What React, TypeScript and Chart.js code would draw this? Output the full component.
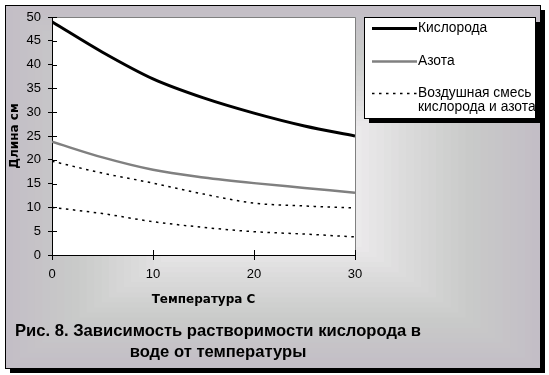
import React, { useEffect, useRef } from "react";
import { Chart, registerables } from "chart.js";

Chart.register(...registerables);

// ---- Data ----
const temperatures = [0, 5, 10, 15, 20, 25, 30];
const oxygen = [49, 42.6, 37, 33, 29.8, 27.1, 25];
const nitrogen = [23.8, 20.5, 17.9, 16.3, 15.1, 14.1, 13.1];
const airUpper = [19.7, 17.2, 15.1, 12.8, 10.9, 10.3, 9.9];
const airLower = [10, 8.7, 7, 5.8, 4.9, 4.4, 3.8];
const xTickValues = [0, 10, 20, 30];
const yTickValues = [0, 5, 10, 15, 20, 25, 30, 35, 40, 45, 50];
const legendLabels: string[][] = [["Кислорода"], ["Азота"], ["Воздушная смесь", "кислорода и азота"]];
const xTitle = "Температура С";
const yTitle = "Длина см";
const captionLines = ["Рис. 8. Зависимость растворимости кислорода в", "воде от температуры"];

const W = 549;
const H = 375;

const gradStops: [number, number[]][] = [
  [0, [195, 190, 198]],
  [0.25, [201, 202, 201]],
  [0.5, [220, 220, 220]],
  [0.72, [240, 238, 240]],
  [1, [248, 246, 248]],
];

function gradColor(t: number) {
  for (let i = 1; i < gradStops.length; i++) {
    const [t1, c1] = gradStops[i];
    const [t0, c0] = gradStops[i - 1];
    if (t <= t1) {
      const k = (t - t0) / (t1 - t0);
      const c = c0.map((v, j) => Math.round(v + (c1[j] - v) * k));
      return `rgb(${c[0]},${c[1]},${c[2]})`;
    }
  }
  const c = gradStops[gradStops.length - 1][1];
  return `rgb(${c[0]},${c[1]},${c[2]})`;
}

const backgroundPlugin = {
  id: "bgFrame",
  beforeDraw(chart: any) {
    const ctx = chart.ctx;
    const fl = 5, ft = 5, fr = 540, fb = 368;
    ctx.save();
    ctx.fillStyle = "#ffffff";
    ctx.fillRect(0, 0, W, H);
    // shadow
    ctx.fillStyle = "#000";
    ctx.fillRect(fl + 5, ft + 5, fr - fl, fb - ft);
    // gradient from centre
    const hw = (fr - fl) / 2;
    const hh = (fb - ft) / 2;
    const steps = 36;
    for (let i = 0; i < steps; i++) {
      const t = i / steps;
      const ix = hw * t;
      const iy = hh * t;
      ctx.fillStyle = gradColor(t);
      ctx.fillRect(fl + ix, ft + iy, fr - fl - 2 * ix, fb - ft - 2 * iy);
    }
    ctx.strokeStyle = "#000";
    ctx.lineWidth = 1;
    ctx.strokeRect(fl + 0.5, ft + 0.5, fr - fl, fb - ft);
    // plot area background
    const a = chart.chartArea;
    ctx.fillStyle = "#ffffff";
    ctx.fillRect(a.left, a.top, a.right - a.left, a.bottom - a.top);
    ctx.restore();
  },
  afterDraw(chart: any) {
    const ctx = chart.ctx;
    const a = chart.chartArea;
    ctx.save();
    // plot border top/right
    ctx.strokeStyle = "#808080";
    ctx.lineWidth = 1;
    ctx.beginPath();
    ctx.moveTo(Math.round(a.left), Math.round(a.top) + 0.5);
    ctx.lineTo(Math.round(a.right) + 0.5, Math.round(a.top) + 0.5);
    ctx.lineTo(Math.round(a.right) + 0.5, Math.round(a.bottom));
    ctx.stroke();
    // inner halves of cross tick marks
    ctx.strokeStyle = "#000";
    ctx.beginPath();
    const xs = chart.scales.x;
    const ys = chart.scales.y;
    xTickValues.forEach((v) => {
      const px = Math.round(xs.getPixelForValue(v)) + 0.5;
      ctx.moveTo(px, a.bottom);
      ctx.lineTo(px, a.bottom - 5);
    });
    yTickValues.forEach((v) => {
      const py = Math.round(ys.getPixelForValue(v)) + 0.5;
      ctx.moveTo(a.left, py);
      ctx.lineTo(a.left + 5, py);
    });
    ctx.stroke();

    // legend box
    const lx = 364, ly = 17, lw = 171, lh = 101;
    ctx.fillStyle = "#000";
    ctx.fillRect(lx + 5, ly + 5, lw, lh);
    ctx.fillStyle = "#fff";
    ctx.fillRect(lx, ly, lw, lh);
    ctx.strokeStyle = "#000";
    ctx.lineWidth = 1;
    ctx.strokeRect(lx + 0.5, ly + 0.5, lw, lh);
    ctx.save();
    ctx.beginPath();
    ctx.rect(lx + 1, ly + 1, lw - 1, lh - 1);
    ctx.clip();
    const rowY = [28, 61, 93];
    legendLabels.forEach((lines, i) => {
      const ds = chart.data.datasets[i];
      ctx.strokeStyle = ds.borderColor;
      ctx.lineWidth = ds.borderWidth;
      ctx.setLineDash(ds.borderDash || []);
      ctx.beginPath();
      ctx.moveTo(372, rowY[i] + 0.5);
      ctx.lineTo(417, rowY[i] + 0.5);
      ctx.stroke();
      ctx.setLineDash([]);
      ctx.fillStyle = "#000";
      ctx.font = "13.8px 'Liberation Sans', Arial, sans-serif";
      ctx.textBaseline = "middle";
      ctx.textAlign = "left";
      lines.forEach((s, j) => ctx.fillText(s, 418, rowY[i] + j * 14));
    });
    ctx.restore();

    // caption
    ctx.fillStyle = "#000";
    ctx.font = "bold 16.6px 'Liberation Sans', Arial, sans-serif";
    ctx.textAlign = "center";
    ctx.textBaseline = "alphabetic";
    captionLines.forEach((s, i) => ctx.fillText(s, 218, 336 + i * 21));
    ctx.restore();
  },
};

export default function App() {
  const ref = useRef<HTMLCanvasElement>(null);
  useEffect(() => {
    if (!ref.current) return;
    const toPts = (arr: number[]) => temperatures.map((t, i) => ({ x: t, y: arr[i] }));
    const chart = new Chart(ref.current, {
      type: "line",
      data: {
        datasets: [
          { label: legendLabels[0].join(" "), data: toPts(oxygen), borderColor: "#000000", borderWidth: 3, pointRadius: 0, cubicInterpolationMode: "monotone", fill: false },
          { label: legendLabels[1].join(" "), data: toPts(nitrogen), borderColor: "#808080", borderWidth: 2.5, pointRadius: 0, cubicInterpolationMode: "monotone", fill: false },
          { label: legendLabels[2].join(" "), data: toPts(airUpper), borderColor: "#000000", borderWidth: 1.5, borderDash: [2.5, 4.5], pointRadius: 0, cubicInterpolationMode: "monotone", fill: false },
          { label: legendLabels[2].join(" "), data: toPts(airLower), borderColor: "#000000", borderWidth: 1.5, borderDash: [2.5, 4.5], pointRadius: 0, cubicInterpolationMode: "monotone", fill: false },
        ] as any,
      },
      options: {
        animation: false,
        responsive: false,
        devicePixelRatio: 1,
        layout: { padding: { left: 0, top: 17, right: 194, bottom: 68 } },
        plugins: { legend: { display: false }, title: { display: false }, tooltip: { enabled: false } },
        events: [],
        scales: {
          x: {
            type: "linear",
            min: 0,
            max: 30,
            afterBuildTicks: (s: any) => { s.ticks = xTickValues.map((v) => ({ value: v })); },
            grid: { drawOnChartArea: false, drawTicks: true, tickLength: 5, color: "#000", lineWidth: 1 },
            border: { color: "#000", width: 1 },
            ticks: { font: { family: "'Liberation Sans', Arial, sans-serif", size: 13 }, color: "#000", padding: 7, maxRotation: 0 },
            title: { display: true, text: xTitle, font: { family: "'DejaVu Sans', sans-serif", size: 12, weight: "bold" }, color: "#000", padding: 0 },
            afterFit: (s: any) => { s.height = 52; },
          },
          y: {
            type: "linear",
            min: 0,
            max: 50,
            afterBuildTicks: (s: any) => { s.ticks = yTickValues.map((v) => ({ value: v })); },
            grid: { drawOnChartArea: false, drawTicks: true, tickLength: 4, color: "#000", lineWidth: 1 },
            border: { color: "#000", width: 1 },
            ticks: { font: { family: "'Liberation Sans', Arial, sans-serif", size: 13 }, color: "#000", padding: 7 },
            title: { display: true, text: yTitle, font: { family: "'DejaVu Sans', sans-serif", size: 12, weight: "bold" }, color: "#000", padding: { top: 8, bottom: 0 } },
            afterFit: (s: any) => { s.width = 52; },
          },
        },
      } as any,
      plugins: [backgroundPlugin],
    });
    return () => chart.destroy();
  }, []);
  return (
    <div style={{ position: "absolute", left: 0, top: 0, width: W, height: H }}>
      <canvas ref={ref} width={W} height={H} style={{ display: "block" }} />
    </div>
  );
}
